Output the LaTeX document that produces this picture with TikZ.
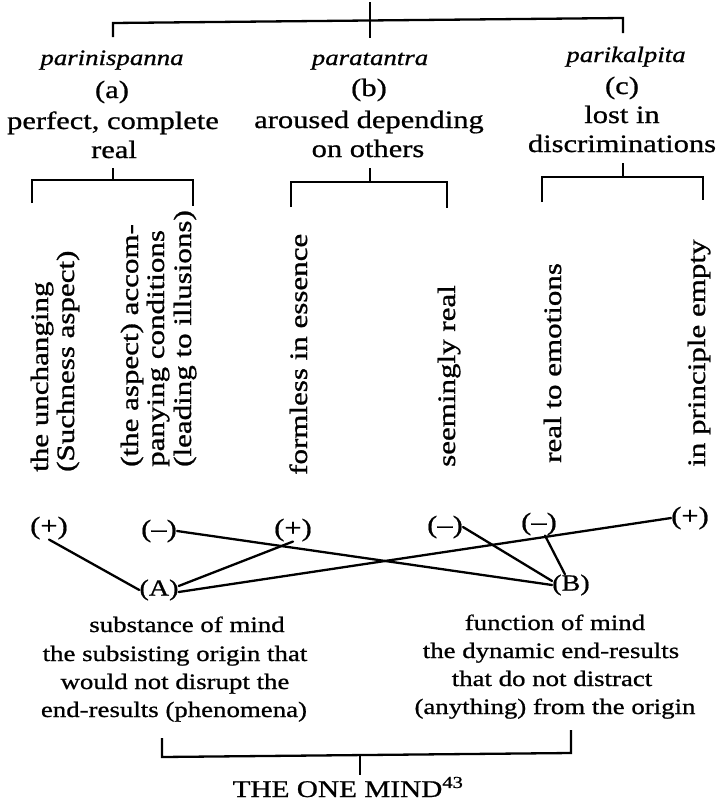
\documentclass[tikz,border=0pt]{standalone}
\usepackage{fontspec}
\setmainfont{Liberation Serif}[FakeStretch=1.22,FakeBold=0.8]
\newfontfamily\rotfont{Liberation Serif}[FakeStretch=1.24,FakeBold=1.1]
\begin{document}
\begin{tikzpicture}[x=1pt,y=-1pt,
  lab/.style={inner sep=0pt, anchor=base, font=\fontsize{25}{29}\selectfont},
  nm/.style={inner sep=0pt, anchor=base, font=\fontsize{22}{26}\selectfont\itshape},
  low/.style={inner sep=0pt, anchor=base, font=\fontsize{22}{28}\selectfont},
  rot/.style={inner sep=0pt, anchor=base west, rotate=90, font=\fontsize{25}{29}\rotfont},
  sign/.style={inner sep=0pt, font=\fontsize{25}{29}\selectfont},
  pt/.style={inner sep=0pt, font=\fontsize{23}{27}\selectfont},
  brk/.style={line width=2.3pt, line join=miter},
  conn/.style={line width=2.3pt, line cap=round}]
\useasboundingbox (0,0) rectangle (728,803);

% ---- top level headings
\node[nm]  (na) at (112,65) {parinispanna};
\node[nm]  (nb) at (370,65) {paratantra};
\node[nm]  (nc) at (626,62) {parikalpita};
\node[lab] (la) at (112,98) {(a)};
\node[lab] (lb) at (369,96) {(b)};
\node[lab] (lc) at (622,94) {(c)};
\node[lab] (a1) at (113,129) {perfect, complete};
\node[lab] (a2) at (114,158) {real};
\node[lab] (b1) at (369,128) {aroused depending};
\node[lab] (b2) at (368,157) {on others};
\node[lab] (c1) at (622,123) {lost in};
\node[lab] (c2) at (622,152) {discriminations};

% ---- top bracket
\coordinate (tS0) at (370,2);
\coordinate (tS1) at (370,38);
\coordinate (tL0) at (113,37);
\coordinate (tL1) at (113,23);
\coordinate (tR1) at (623,18);
\coordinate (tR0) at (623,33);
\draw[brk] (tL0) -- (tL1) -- (tR1) -- (tR0);
\draw[brk] (tS0) -- (tS1);

% ---- second level brackets
\draw[brk] (113,168) -- (113,180);
\draw[brk] (32,203) -- (32,180) -- (193,180) -- (193,206);
\draw[brk] (370,168) -- (370,182);
\draw[brk] (291,207) -- (291,182) -- (447,182) -- (447,208);
\draw[brk] (623,163) -- (623,177);
\draw[brk] (542,202) -- (542,177) -- (703,177) -- (703,200);

% ---- rotated texts
\node[rot] (r1) at (48,472)  {the unchanging};
\node[rot] (r2) at (74,472)  {(Suchness aspect)};
\node[rot] (r3) at (138,467) {(the aspect) accom-};
\node[rot] (r4) at (164,467) {panying conditions};
\node[rot] (r5) at (191,467) {(leading to illusions)};
\node[rot] (r6) at (307,475) {formless in essence};
\node[rot] (r7) at (455,467) {seemingly real};
\node[rot] (r8) at (561,463) {real to emotions};
\node[rot] (r9) at (705,467) {in principle empty};

% ---- signs and A/B
\node[sign] (pL) at (49,528)  {(+)};
\node[sign] (mL) at (159,531) {(–)};
\node[sign] (pM) at (293,530) {(+)};
\node[sign] (mM) at (445,527) {(–)};
\node[sign] (mR) at (539,524) {(–)};
\node[sign] (pR) at (690,518) {(+)};
\node[pt]   (nA) at (159,590) {(A)};
\node[pt]   (nB) at (571,585) {(B)};

\draw[conn] (pL.south) -- (nA.west);
\draw[conn] (mL.east) -- (nB.west);
\draw[conn] ([yshift=4pt]nA.east) -- (pM.south);
\draw[conn] ([yshift=-2pt]nA.east) -- (pR.west);
\draw[conn] (mM.east) -- ([yshift=4pt]nB.west);
\draw[conn] ([xshift=6pt]mR.south) -- ([xshift=-6pt]nB.north);

% ---- lower texts
\node[low] (s1) at (187,632) {substance of mind};
\node[low] (s2) at (175,661) {the subsisting origin that};
\node[low] (s3) at (175,689) {would not disrupt the};
\node[low] (s4) at (174,717) {end-results (phenomena)};
\node[low] (f1) at (555,630) {function of mind};
\node[low] (f2) at (551,658) {the dynamic end-results};
\node[low] (f3) at (552,686) {that do not distract};
\node[low] (f4) at (555,714) {(anything) from the origin};

% ---- bottom bracket
\coordinate (bL0) at (162,738);
\coordinate (bL1) at (162,757);
\coordinate (bR1) at (571,753);
\coordinate (bR0) at (571,730);
\draw[brk] (bL0) -- (bL1) -- (bR1) -- (bR0);
\node[inner sep=0pt, anchor=base, font=\fontsize{24}{28}\selectfont] (one) at (348,797) {THE ONE MIND\textsuperscript{43}};
\draw[brk] (360,755) -- (360,775);
\end{tikzpicture}
\end{document}
